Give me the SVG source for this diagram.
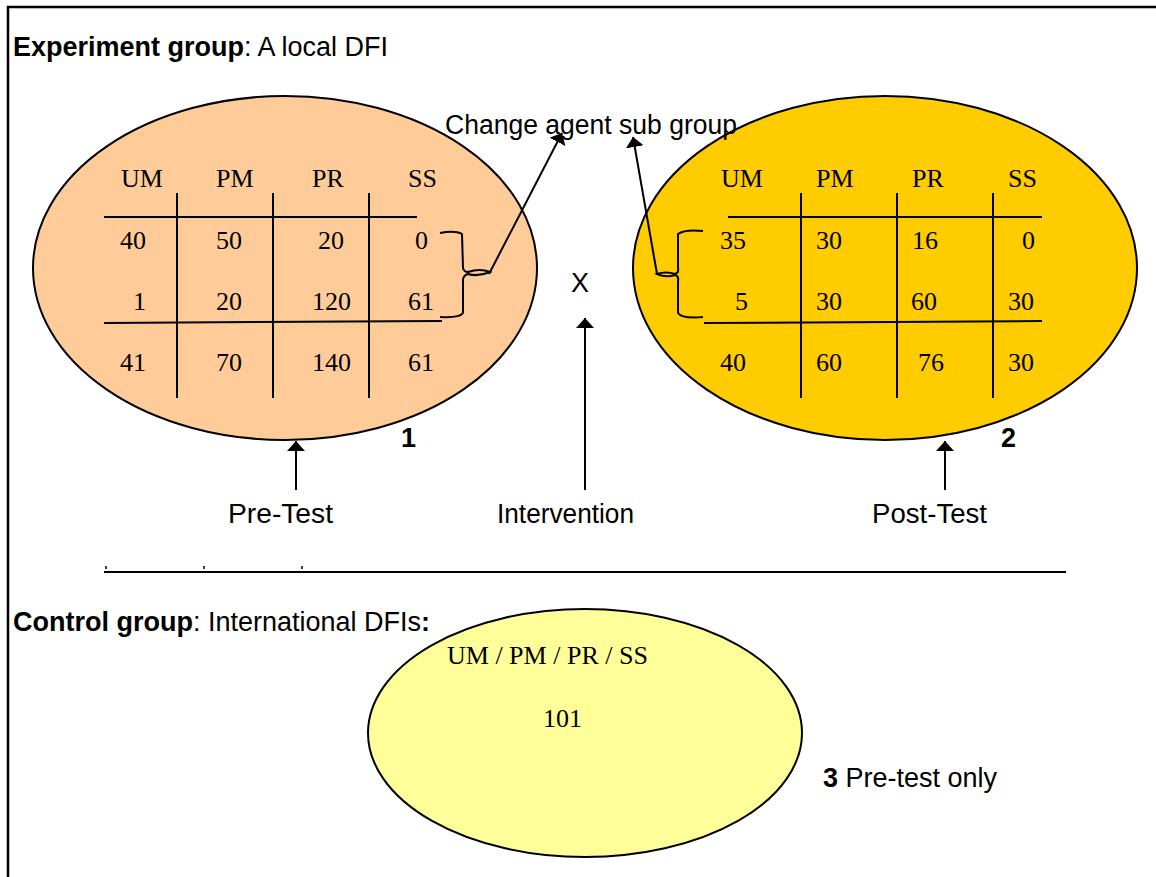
<svg xmlns="http://www.w3.org/2000/svg" width="1156" height="877" viewBox="0 0 1156 877">
  <style>
    .sans { font-family: "Liberation Sans", Arial, sans-serif; font-size: 27px; fill: #000; }
    .serif { font-family: "Liberation Serif", "Times New Roman", serif; font-size: 26px; fill: #000; }
    .b { font-weight: bold; }
    .line { stroke: #000; stroke-width: 2; fill: none; }
    .oval { stroke: #000; stroke-width: 2; }
  </style>
  <defs>
    <marker id="arrow" viewBox="0 0 10 18" refX="10" refY="9" markerWidth="10" markerHeight="18" markerUnits="userSpaceOnUse" orient="auto">
      <path d="M0,0 L10,9 L0,18 Z" fill="#000"/>
    </marker>
  </defs>

  <rect width="1156" height="877" fill="#fff"/>

  <!-- page frame -->
  <path d="M8,877 L8,7 L1156,7" stroke="#000" stroke-width="2.5" fill="none"/>

  <text class="sans" x="13" y="56"><tspan class="b">Experiment group</tspan>: A local DFI</text>

  <!-- pre-test group -->
  <g id="pretest">
    <ellipse class="oval" cx="285" cy="268" rx="252" ry="172" fill="#FFCC99"/>
    <g class="line">
      <line x1="177" y1="193" x2="177" y2="398"/>
      <line x1="273" y1="193" x2="273" y2="398"/>
      <line x1="369" y1="193" x2="369" y2="398"/>
      <line x1="104" y1="217" x2="417" y2="217"/>
      <line x1="104" y1="323" x2="442" y2="321"/>
    </g>
    <g class="serif">
      <text x="121" y="187">UM</text>
      <text x="216" y="187">PM</text>
      <text x="312" y="187">PR</text>
      <text x="408" y="187">SS</text>
      <text x="120" y="249">40</text>
      <text x="216" y="249">50</text>
      <text x="318" y="249">20</text>
      <text x="415" y="249">0</text>
      <text x="133" y="310">1</text>
      <text x="216" y="310">20</text>
      <text x="312" y="310">120</text>
      <text x="408" y="310">61</text>
      <text x="120" y="371">41</text>
      <text x="216" y="371">70</text>
      <text x="312" y="371">140</text>
      <text x="408" y="371">61</text>
    </g>
    <path class="line" d="M440,233 Q455,230 462,234 L463,268 Q464,272 468,272 Q480,268 490,272 Q478,277 468,274 Q464,275 463,279 L463,313 Q460,318 440,317"/>
    <text class="sans b" x="401" y="447">1</text>
  </g>

  <!-- post-test group -->
  <g id="posttest">
    <ellipse class="oval" cx="885" cy="268" rx="252" ry="172" fill="#FFCC00"/>
    <g class="line">
      <line x1="801" y1="193" x2="801" y2="398"/>
      <line x1="897" y1="193" x2="897" y2="398"/>
      <line x1="993" y1="193" x2="993" y2="398"/>
      <line x1="728" y1="217" x2="1042" y2="217"/>
      <line x1="704" y1="323" x2="1042" y2="321"/>
    </g>
    <g class="serif">
      <text x="721" y="187">UM</text>
      <text x="816" y="187">PM</text>
      <text x="912" y="187">PR</text>
      <text x="1008" y="187">SS</text>
      <text x="720" y="249">35</text>
      <text x="816" y="249">30</text>
      <text x="912" y="249">16</text>
      <text x="1022" y="249">0</text>
      <text x="735" y="310">5</text>
      <text x="816" y="310">30</text>
      <text x="911" y="310">60</text>
      <text x="1008" y="310">30</text>
      <text x="720" y="371">40</text>
      <text x="816" y="371">60</text>
      <text x="918" y="371">76</text>
      <text x="1008" y="371">30</text>
    </g>
    <path class="line" d="M703,231 Q685,229 678,234 L678,268 Q679,273 675,274 Q666,271 657,274 Q666,278 675,275 Q679,276 678,281 L678,313 Q682,319 703,317"/>
    <text class="sans b" x="1001" y="447">2</text>
  </g>

  <!-- control group -->
  <g id="control">
    <ellipse class="oval" cx="585" cy="733" rx="217" ry="124" fill="#FFFF99"/>
    <text class="serif" x="447" y="664">UM / PM / PR / SS</text>
    <text class="serif" x="543" y="727">101</text>
  </g>

  <text class="sans" x="445" y="134" textLength="292" lengthAdjust="spacingAndGlyphs">Change agent sub group</text>
  <text class="sans" x="571" y="292">X</text>
  <text class="sans" x="228" y="523" textLength="105" lengthAdjust="spacingAndGlyphs">Pre-Test</text>
  <text class="sans" x="497" y="523" textLength="137" lengthAdjust="spacingAndGlyphs">Intervention</text>
  <text class="sans" x="872" y="523" textLength="115" lengthAdjust="spacingAndGlyphs">Post-Test</text>

  <!-- section divider -->
  <line x1="104" y1="572" x2="1066" y2="572" stroke="#000" stroke-width="2"/>
  <g stroke="#000" stroke-width="1.5">
    <line x1="106" y1="566" x2="106" y2="569"/>
    <line x1="204" y1="566" x2="204" y2="569"/>
    <line x1="302" y1="566" x2="302" y2="569"/>
  </g>

  <text class="sans" x="13" y="631"><tspan class="b">Control group</tspan>: International DFIs<tspan class="b">:</tspan></text>
  <text class="sans" x="823" y="787"><tspan class="b">3</tspan> Pre-test only</text>

  <!-- connectors -->
  <g id="connectors" class="line" marker-end="url(#arrow)">
    <line x1="489" y1="274" x2="562" y2="133"/>
    <line x1="657" y1="274" x2="633" y2="137"/>
    <line x1="585" y1="490" x2="585" y2="318"/>
    <line x1="296" y1="490" x2="296" y2="441"/>
    <line x1="945" y1="490" x2="945" y2="441"/>
  </g>
</svg>
